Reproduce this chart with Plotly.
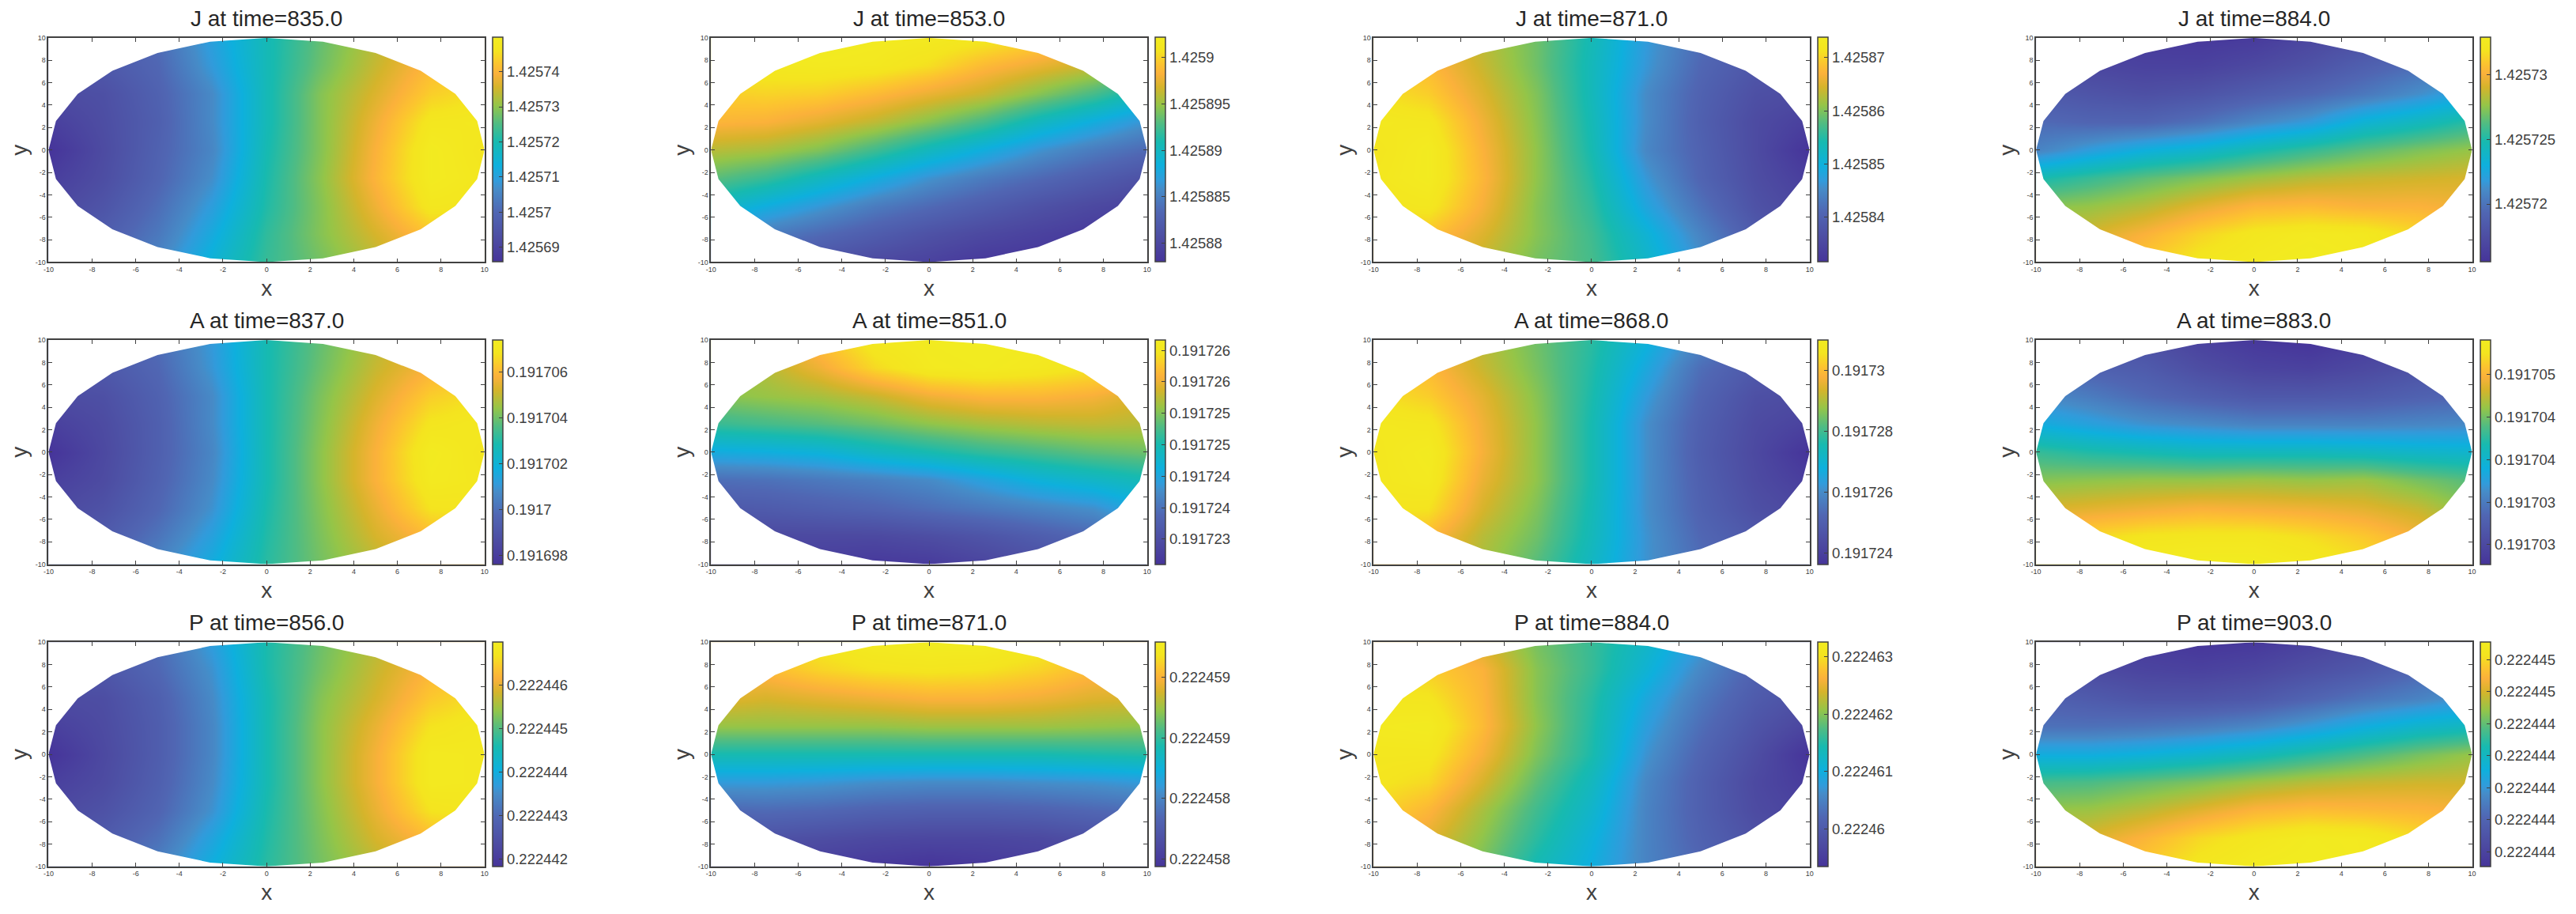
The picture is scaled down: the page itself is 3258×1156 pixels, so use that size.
import numpy as np
import plotly.graph_objects as go

# grid nodes of the sampled field, rows below run from y=10 down to y=-10
grid_x = [-10, -7.5, -5, -2.5, 0, 2.5, 5, 7.5, 10]
grid_y = [10, 7.5, 5, 2.5, 0, -2.5, -5, -7.5, -10]

# field, as percent of the span of each colorbar
J_835 = [[16, 18, 24, 38, 52, 64, 74, 84, 88],
         [14, 16, 22, 36, 52, 65, 76, 86, 90],
         [10, 12, 20, 32, 52, 68, 79, 90, 94],
         [5, 11, 19, 32, 52, 68, 82, 96, 97],
         [0, 10, 20, 31, 53, 68, 84, 99, 95],
         [4, 11, 21, 33, 54, 69, 85, 99, 96],
         [8, 14, 24, 37, 55, 68, 82, 96, 95],
         [14, 18, 27, 41, 57, 68, 78, 88, 90],
         [18, 22, 31, 45, 58, 66, 74, 84, 86]]
J_853 = [[98, 99, 100, 99, 98, 96, 92, 86, 80],
         [96, 97, 98, 97, 93, 86, 81, 76, 68],
         [90, 91, 90, 86, 81, 76, 68, 60, 50],
         [85, 84, 80, 75, 68, 60, 50, 42, 34],
         [74, 72, 67, 59, 50, 42, 34, 28, 23],
         [63, 58, 50, 42, 34, 28, 23, 18, 13],
         [50, 42, 35, 28, 23, 18, 13, 9, 6],
         [35, 28, 23, 18, 13, 9, 6, 3, 2],
         [23, 18, 13, 9, 6, 2, 1, 2, 3]]
J_871 = [[88, 84, 74, 65, 52, 36, 24, 18, 16],
         [90, 86, 76, 65, 51, 35, 22, 15, 12],
         [94, 90, 79, 67, 51, 32, 20, 12, 10],
         [97, 96, 82, 68, 52, 32, 19, 10, 5],
         [95, 99, 84, 69, 53, 31, 20, 10, 0],
         [96, 99, 85, 69, 55, 35, 21, 11, 4],
         [95, 96, 83, 68, 57, 39, 25, 13, 7],
         [90, 88, 79, 68, 59, 45, 30, 17, 12],
         [86, 84, 75, 66, 60, 48, 34, 20, 15]]
J_884 = [[8, 5, 3, 2, 3, 8, 12, 16, 18],
         [12, 8, 6, 6, 9, 13, 19, 24, 28],
         [17, 14, 12, 14, 18, 22, 27, 33, 40],
         [23, 21, 21, 25, 31, 36, 45, 50, 56],
         [30, 37, 43, 47, 53, 58, 63, 67, 70],
         [53, 58, 63, 67, 71, 74, 76, 77, 78],
         [68, 70, 74, 80, 85, 86, 84, 84, 82],
         [75, 78, 84, 91, 96, 98, 97, 92, 88],
         [80, 84, 90, 96, 98, 100, 98, 94, 90]]
A_837 = [[20, 18, 24, 36, 53, 64, 74, 84, 88],
         [16, 16, 22, 35, 53, 65, 76, 84, 90],
         [10, 12, 20, 32, 53, 67, 79, 90, 94],
         [5, 10, 19, 32, 53, 68, 82, 95, 97],
         [0, 9, 19, 31, 53, 69, 84, 99, 95],
         [5, 10, 20, 32, 53, 69, 84, 98, 96],
         [9, 13, 22, 34, 54, 68, 81, 94, 95],
         [14, 17, 26, 38, 55, 67, 78, 86, 90],
         [20, 22, 31, 42, 56, 66, 74, 84, 86]]
A_851 = [[74, 78, 88, 97, 99, 100, 99, 97, 94],
         [70, 74, 82, 92, 98, 99, 97, 94, 92],
         [68, 70, 72, 76, 82, 85, 85, 83, 78],
         [58, 60, 62, 65, 69, 72, 74, 75, 74],
         [41, 42, 44, 49, 53, 57, 60, 63, 65],
         [24, 25, 27, 29, 32, 38, 44, 48, 52],
         [16, 17, 19, 21, 24, 27, 30, 33, 42],
         [10, 9, 9, 9, 11, 14, 18, 22, 30],
         [8, 6, 4, 2, 3, 7, 11, 15, 22]]
A_868 = [[86, 84, 74, 65, 56, 44, 30, 20, 18],
         [90, 86, 76, 66, 55, 40, 24, 16, 14],
         [94, 90, 80, 68, 54, 36, 21, 12, 10],
         [97, 96, 82, 69, 53, 33, 19, 10, 6],
         [96, 99, 83, 69, 53, 33, 18, 9, 0],
         [96, 98, 81, 69, 53, 33, 19, 10, 4],
         [95, 94, 78, 67, 52, 33, 20, 12, 8],
         [90, 86, 74, 65, 51, 34, 22, 16, 14],
         [86, 84, 72, 62, 49, 34, 24, 18, 18]]
A_883 = [[22, 17, 12, 6, 2, 0, 4, 8, 12],
         [24, 20, 17, 11, 7, 6, 9, 13, 16],
         [32, 28, 23, 19, 16, 16, 17, 20, 22],
         [42, 38, 34, 32, 30, 30, 30, 31, 32],
         [58, 55, 53, 51, 51, 51, 50, 48, 47],
         [68, 69, 70, 70, 71, 70, 71, 66, 62],
         [78, 80, 82, 84, 83, 82, 80, 76, 68],
         [90, 92, 95, 96, 96, 93, 89, 83, 76],
         [96, 98, 100, 100, 100, 98, 94, 88, 80]]
P_856 = [[20, 18, 24, 37, 54, 65, 74, 84, 88],
         [16, 15, 22, 34, 54, 66, 76, 85, 90],
         [10, 11, 19, 32, 53, 68, 78, 89, 94],
         [5, 10, 18, 31, 53, 69, 81, 94, 97],
         [0, 9, 18, 31, 53, 69, 83, 98, 97],
         [5, 10, 19, 32, 53, 69, 83, 98, 97],
         [9, 13, 21, 34, 54, 68, 81, 94, 96],
         [14, 17, 25, 39, 55, 67, 78, 86, 90],
         [20, 22, 30, 43, 56, 66, 74, 84, 86]]
P_871 = [[88, 92, 96, 99, 100, 100, 97, 92, 88],
         [84, 86, 91, 94, 95, 94, 91, 86, 84],
         [80, 78, 80, 82, 84, 84, 82, 79, 78],
         [70, 70, 70, 70, 71, 71, 71, 70, 69],
         [53, 53, 53, 53, 53, 53, 53, 54, 55],
         [36, 36, 35, 33, 32, 32, 33, 34, 36],
         [22, 23, 22, 20, 19, 19, 20, 22, 24],
         [12, 13, 11, 9, 8, 8, 9, 12, 14],
         [8, 8, 4, 2, 0, 2, 4, 8, 10]]
P_884 = [[88, 86, 78, 66, 58, 48, 36, 22, 18],
         [92, 90, 84, 68, 58, 45, 31, 20, 15],
         [96, 95, 85, 68, 56, 40, 27, 17, 12],
         [98, 99, 86, 69, 55, 37, 24, 14, 7],
         [96, 96, 83, 67, 54, 34, 21, 11, 0],
         [95, 92, 78, 63, 50, 31, 19, 9, 3],
         [92, 85, 72, 59, 47, 30, 19, 10, 6],
         [85, 80, 69, 56, 44, 30, 20, 13, 10],
         [80, 76, 66, 52, 42, 30, 22, 16, 14]]
P_903 = [[10, 6, 3, 1, 2, 6, 10, 16, 20],
         [14, 10, 7, 6, 8, 12, 16, 22, 26],
         [20, 17, 14, 14, 16, 21, 26, 30, 35],
         [25, 25, 26, 28, 31, 36, 42, 47, 50],
         [42, 42, 44, 47, 51, 56, 61, 66, 70],
         [60, 61, 64, 67, 71, 74, 76, 77, 77],
         [70, 71, 75, 80, 85, 87, 86, 85, 83],
         [76, 79, 85, 92, 96, 99, 98, 93, 89],
         [80, 84, 90, 96, 99, 100, 98, 94, 90]]

names = ["J", "J", "J", "J", "A", "A", "A", "A", "P", "P", "P", "P"]
times = [835, 853, 871, 884, 837, 851, 868, 883, 856, 871, 884, 903]
fields = [J_835, J_853, J_871, J_884, A_837, A_851, A_868, A_883,
          P_856, P_871, P_884, P_903]

z_low = [1.4256858, 1.4258780, 1.4258315, 1.4257155,
         0.1916976, 0.1917226, 0.19172363, 0.19170277,
         0.22244184, 0.22245744, 0.22245935, 0.22244351]
z_high = [1.4257497, 1.4259021, 1.4258738, 1.4257329,
          0.1917074, 0.19172617, 0.19173102, 0.19170541,
          0.22244699, 0.22245929, 0.22246326, 0.22244491]

bar_ticks = [
    [1.42569, 1.4257, 1.42571, 1.42572, 1.42573, 1.42574],
    [1.42588, 1.425885, 1.42589, 1.425895, 1.4259],
    [1.42584, 1.42585, 1.42586, 1.42587],
    [1.42572, 1.425725, 1.42573],
    [0.191698, 0.1917, 0.191702, 0.191704, 0.191706],
    [0.191723, 0.1917235, 0.191724, 0.1917245, 0.191725, 0.1917255, 0.191726],
    [0.191724, 0.191726, 0.191728, 0.19173],
    [0.191703, 0.1917035, 0.191704, 0.1917045, 0.191705],
    [0.222442, 0.222443, 0.222444, 0.222445, 0.222446],
    [0.2224575, 0.222458, 0.2224585, 0.222459],
    [0.22246, 0.222461, 0.222462, 0.222463],
    [0.2224436, 0.2224438, 0.222444, 0.2224442, 0.2224444, 0.2224446, 0.2224448],
]
bar_labels = [
    ["1.42569", "1.4257", "1.42571", "1.42572", "1.42573", "1.42574"],
    ["1.42588", "1.425885", "1.42589", "1.425895", "1.4259"],
    ["1.42584", "1.42585", "1.42586", "1.42587"],
    ["1.42572", "1.425725", "1.42573"],
    ["0.191698", "0.1917", "0.191702", "0.191704", "0.191706"],
    ["0.191723", "0.191724", "0.191724", "0.191725", "0.191725", "0.191726", "0.191726"],
    ["0.191724", "0.191726", "0.191728", "0.19173"],
    ["0.191703", "0.191703", "0.191704", "0.191704", "0.191705"],
    ["0.222442", "0.222443", "0.222444", "0.222445", "0.222446"],
    ["0.222458", "0.222458", "0.222459", "0.222459"],
    ["0.22246", "0.222461", "0.222462", "0.222463"],
    ["0.222444", "0.222444", "0.222444", "0.222444", "0.222444", "0.222445", "0.222445"],
]

axis_ticks = [-10, -8, -6, -4, -2, 0, 2, 4, 6, 8, 10]
axis_labels = ["-10", "-8", "-6", "-4", "-2", "0", "2", "4", "6", "8", "10"]

colors = [[0, "#46349A"], [0.103, "#4D4CA2"], [0.219, "#5066B3"], [0.324, "#468CC8"],
          [0.359, "#329BDB"], [0.429, "#0EB0DD"], [0.534, "#17BAB0"], [0.615, "#50BC83"],
          [0.697, "#95C548"], [0.778, "#D6B42B"], [0.837, "#FBB13B"], [0.883, "#FCC52F"],
          [0.94, "#F4E41F"], [1, "#F2EC20"]]

W, H = 3258, 1156
GREY = "#404040"
FONT = "Liberation Sans"

# the domain is a 24 sided polygon, everything outside it is painted white
angles = np.deg2rad(np.arange(0, 361, 15))
mask_x = [-11, -11, 11, 11, -11, None] + list(10 * np.cos(angles))
mask_y = [-11, 11, 11, -11, -11, None] + list(10 * np.sin(angles))

fig = go.Figure()

for i in range(12):
    row, col = i // 4, i % 4
    left = 54.6 + 841 * col
    right = left + 553.5
    top = 43.3 + 385.5 * row
    bottom = top + 286
    n = "" if i == 0 else i + 1

    low, high = z_low[i], z_high[i]
    z = low + np.array(fields[i]) / 100 * (high - low)

    fig.add_trace(go.Heatmap(
        x=grid_x, y=grid_y, z=z, zsmooth="best",
        zmin=low, zmax=high, colorscale=colors,
        xaxis=f"x{n}", yaxis=f"y{n}",
        colorbar=dict(
            x=(left + 564) / W, xanchor="left", xpad=0,
            y=1 - bottom / H, yanchor="bottom", ypad=0,
            len=286 / H, lenmode="fraction",
            thickness=13, thicknessmode="pixels",
            outlinecolor=GREY, outlinewidth=1.5,
            ticks="inside", ticklen=5, tickwidth=1, tickcolor=GREY,
            tickmode="array", tickvals=bar_ticks[i], ticktext=bar_labels[i],
            tickfont=dict(family=FONT, size=18.5, color=GREY),
        ),
    ))
    fig.add_trace(go.Scatter(
        x=mask_x, y=mask_y, mode="lines", fill="toself",
        fillcolor="white", line=dict(width=0, color="white"),
        hoverinfo="skip", showlegend=False,
        xaxis=f"x{n}", yaxis=f"y{n}",
    ))

    axis_style = dict(
        range=[-10, 10], showgrid=False, zeroline=False,
        showline=True, linecolor=GREY, linewidth=1.5, mirror="allticks",
        ticks="inside", ticklen=5, tickwidth=1, tickcolor=GREY,
        tickmode="array", tickvals=axis_ticks, ticktext=axis_labels,
        tickangle=0, tickfont=dict(family=FONT, size=9, color=GREY),
    )
    fig.update_layout({
        f"xaxis{n}": dict(axis_style, anchor=f"y{n}",
                          domain=[left / W, right / W],
                          title=dict(text="x", standoff=9,
                                     font=dict(family=FONT, size=28, color=GREY))),
        f"yaxis{n}": dict(axis_style, anchor=f"x{n}",
                          domain=[1 - bottom / H, 1 - top / H],
                          title=dict(text="y", standoff=2,
                                     font=dict(family=FONT, size=28, color=GREY))),
    })
    fig.add_annotation(
        text=f"{names[i]} at time={times[i]}.0", showarrow=False,
        xref=f"x{n} domain", yref=f"y{n} domain", x=0.5, y=1,
        xanchor="center", yanchor="bottom", yshift=7,
        font=dict(family=FONT, size=28, color="#262626"),
    )

fig.update_layout(
    width=W, height=H, autosize=False,
    margin=dict(l=0, r=0, t=0, b=0),
    paper_bgcolor="white", plot_bgcolor="white",
    showlegend=False,
)

# the default page has a body margin that would push the figure off
fig.write_html("out.html", config={"displayModeBar": False},
               post_script="document.body.style.margin = '0';")
